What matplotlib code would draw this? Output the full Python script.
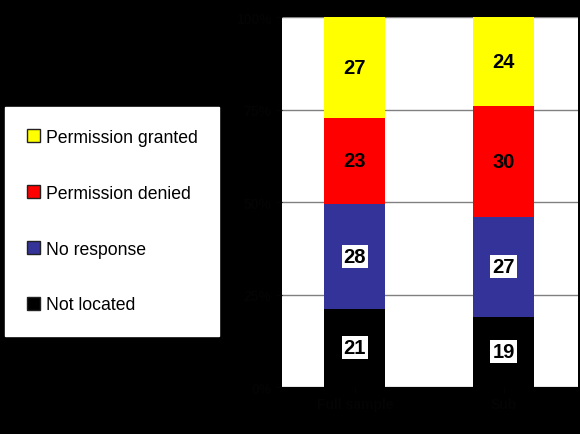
import numpy as np
import matplotlib.pyplot as plt
from matplotlib.patches import Patch

plt.rcParams["font.family"] = ["Liberation Sans", "DejaVu Sans"]

categories = ["Full sample", "Sub"]
series_names = ["Not located", "No response", "Permission denied", "Permission granted"]
not_located = [21, 19]
no_response = [28, 27]
denied = [23, 30]
granted = [27, 24]
tick_labels = ["0%", "25%", "50%", "75%", "100%"]

colors = ["#000000", "#333399", "#ff0000", "#ffff00"]
series = np.array([not_located, no_response, denied, granted], dtype=float)
shares = series / series.sum(axis=0) * 100

fig = plt.figure(figsize=(5.8, 4.35), dpi=100, facecolor="black")
ax = fig.add_axes([282 / 580, 1 - 388 / 435, 296 / 580, 370 / 435])
ax.set_facecolor("white")

x = np.arange(len(categories))
bottom = np.zeros(len(categories))
for i, name in enumerate(series_names):
    ax.bar(x, shares[i], width=0.41, bottom=bottom, color=colors[i],
           edgecolor="none", zorder=3)
    for j in range(len(categories)):
        y = bottom[j] + shares[i][j] / 2
        box = None
        if i < 2:
            box = dict(boxstyle="square,pad=0.1", facecolor="white", edgecolor="none")
        ax.text(x[j], y, f"{int(series[i][j])}", ha="center", va="center",
                fontsize=14.5, fontweight="bold", color="black", bbox=box, zorder=4)
    bottom += shares[i]

ax.set_xlim(-0.49, 1.5)
ax.set_ylim(0, 100)
ax.set_yticks([0, 25, 50, 75, 100])
ax.set_yticklabels(tick_labels, color="#040404", fontsize=10, fontweight="bold")
ax.set_xticks(x)
ax.set_xticklabels(categories, color="#040404", fontsize=10, fontweight="bold")
ax.tick_params(colors="#040404", length=4)
ax.grid(axis="y", color="#808080", linewidth=1, zorder=0)
for s in ax.spines.values():
    s.set_visible(False)

handles = [Patch(facecolor=colors[i], edgecolor="#222222", label=series_names[i])
           for i in range(3, -1, -1)]
leg = fig.legend(handles=handles, loc="upper left",
                 bbox_to_anchor=(5 / 580, 1 - 108 / 435),
                 fontsize=12.7, frameon=True, fancybox=False,
                 labelspacing=2.2, borderpad=1.25, handlelength=0.75,
                 handleheight=0.75, handletextpad=0.3, borderaxespad=0)
leg.get_frame().set_facecolor("white")
leg.get_frame().set_edgecolor("white")
leg.get_frame().set_alpha(1)

fig.savefig("out.png", dpi=100, facecolor="black")
